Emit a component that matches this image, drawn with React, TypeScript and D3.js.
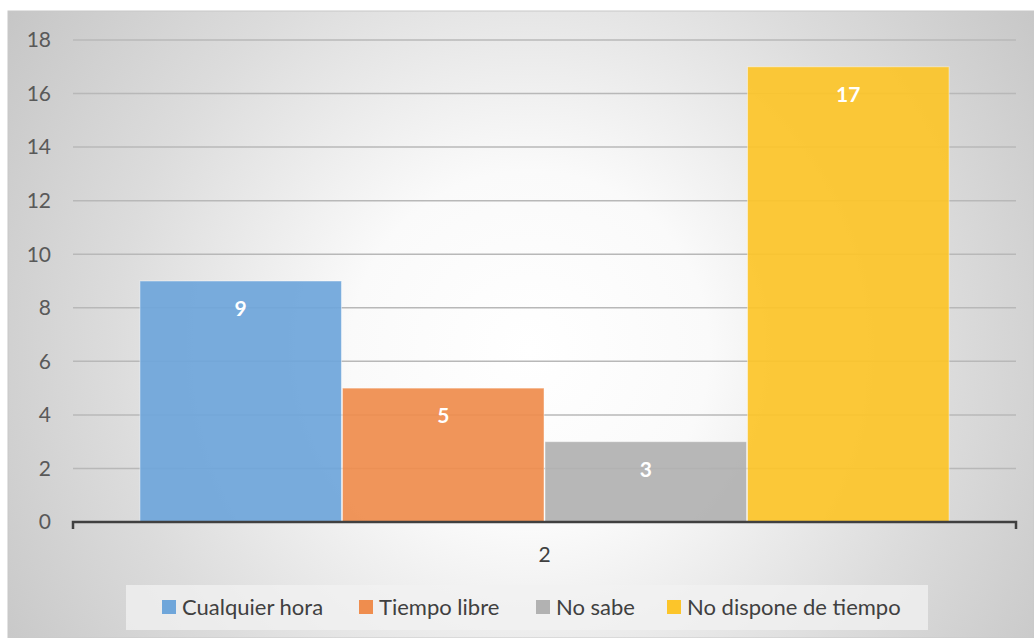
import * as d3 from 'd3';
import { useEffect, useRef } from 'react';

const categories = ['2'];
const seriesNames = ['Cualquier hora', 'Tiempo libre', 'No sabe', 'No dispone de tiempo'];
const seriesValues = [9, 5, 3, 17];
const seriesColors = ['#6fa6da', '#ef8d4e', '#b2b2b2', '#fcc52a'];
const yTicks = [0, 2, 4, 6, 8, 10, 12, 14, 16, 18];

export default function App() {
  const ref = useRef<HTMLDivElement>(null);

  const width = 1034;
  const height = 638;
  const marginTop = 40;
  const marginLeft = 73;
  const marginRight = 18;
  const plotBottom = 522;
  const font = 'Lato, "Open Sans", sans-serif';

  useEffect(() => {
    if (!ref.current) return;

    const svg = d3
      .create('svg')
      .attr('width', width)
      .attr('height', height)
      .style('position', 'absolute')
      .style('left', '0px')
      .style('top', '0px')
      .style('font-family', font);

    // 背景のグラデーション
    const defs = svg.append('defs');
    const grad = defs
      .append('radialGradient')
      .attr('id', 'bg')
      .attr('gradientUnits', 'userSpaceOnUse')
      .attr('cx', 530)
      .attr('cy', 350)
      .attr('r', 640);
    grad.append('stop').attr('offset', '0%').attr('stop-color', '#ffffff');
    grad.append('stop').attr('offset', '28%').attr('stop-color', '#fafafa');
    grad.append('stop').attr('offset', '65%').attr('stop-color', '#dcdcdc');
    grad.append('stop').attr('offset', '100%').attr('stop-color', '#c4c4c4');

    svg.append('rect').attr('width', width).attr('height', height).attr('fill', '#ffffff');
    svg
      .append('rect')
      .attr('x', 8)
      .attr('y', 11)
      .attr('width', width - 8)
      .attr('height', height - 11)
      .attr('fill', 'url(#bg)')
      .attr('stroke', '#c8c8c8')
      .attr('stroke-width', 1);

    // スケール
    const y = d3.scaleLinear().domain([0, 18]).range([plotBottom, marginTop]);
    const x0 = d3
      .scaleBand()
      .domain(categories)
      .range([marginLeft, width - marginRight])
      .paddingInner(0)
      .paddingOuter(0.082);
    const x1 = d3.scaleBand().domain(seriesNames).range([0, x0.bandwidth()]).padding(0);

    // y軸のグリッド線
    svg
      .append('g')
      .selectAll('line')
      .data(yTicks.filter((d) => d > 0))
      .join('line')
      .attr('x1', marginLeft)
      .attr('x2', width - marginRight)
      .attr('y1', (d) => y(d))
      .attr('y2', (d) => y(d))
      .attr('stroke', '#b8b8b8')
      .attr('stroke-width', 1.5);

    // y軸ラベル
    svg
      .append('g')
      .selectAll('text')
      .data(yTicks)
      .join('text')
      .attr('x', 51)
      .attr('y', (d) => y(d))
      .attr('dy', '0.35em')
      .attr('text-anchor', 'end')
      .attr('font-size', 21)
      .attr('fill', '#595959')
      .text((d) => d);

    // 棒
    const rows = seriesNames.map((name, i) => ({ name, value: seriesValues[i], color: seriesColors[i] }));
    const g = svg.append('g').attr('transform', `translate(${x0(categories[0])},0)`);
    g.selectAll('rect')
      .data(rows)
      .join('rect')
      .attr('x', (d) => x1(d.name)! + 0.5)
      .attr('y', (d) => y(d.value))
      .attr('width', x1.bandwidth() - 1)
      .attr('height', (d) => plotBottom - y(d.value))
      .attr('fill', (d) => d.color)
      .attr('fill-opacity', 0.93)
      .attr('stroke', 'rgba(255,255,255,0.45)')
      .attr('stroke-width', 1);

    // データラベル
    g.selectAll('text')
      .data(rows)
      .join('text')
      .attr('x', (d) => x1(d.name)! + x1.bandwidth() / 2)
      .attr('y', (d) => y(d.value) + 28)
      .attr('dy', '0.35em')
      .attr('text-anchor', 'middle')
      .attr('font-size', 21)
      .attr('font-weight', 'bold')
      .attr('fill', '#ffffff')
      .text((d) => d.value);

    // x軸
    const axisRight = width - marginRight;
    svg
      .append('path')
      .attr('d', `M${marginLeft},${plotBottom + 7}V${plotBottom}H${axisRight}V${plotBottom + 7}`)
      .attr('fill', 'none')
      .attr('stroke', '#404040')
      .attr('stroke-width', 2.5);

    svg
      .append('g')
      .selectAll('text')
      .data(categories)
      .join('text')
      .attr('x', (d) => x0(d)! + x0.bandwidth() / 2)
      .attr('y', 555)
      .attr('dy', '0.35em')
      .attr('text-anchor', 'middle')
      .attr('font-size', 21)
      .attr('fill', '#404040')
      .text((d) => d);

    // 凡例
    svg
      .append('rect')
      .attr('x', 126)
      .attr('y', 585)
      .attr('width', 802)
      .attr('height', 45)
      .attr('fill', '#f2f2f2')
      .attr('fill-opacity', 0.75);

    const legendX = [162, 359, 536, 667];
    const lg = svg
      .append('g')
      .selectAll('g')
      .data(rows)
      .join('g')
      .attr('transform', (_d, i) => `translate(${legendX[i]},607)`);
    lg.append('rect')
      .attr('x', 0)
      .attr('y', -7)
      .attr('width', 14)
      .attr('height', 14)
      .attr('fill', (d) => d.color);
    lg.append('text')
      .attr('x', 20)
      .attr('dy', '0.35em')
      .attr('font-size', 22)
      .attr('fill', '#404040')
      .text((d) => d.name);

    ref.current.innerHTML = '';
    ref.current.appendChild(svg.node()!);
  }, [ref]);

  return <div ref={ref} />;
}
